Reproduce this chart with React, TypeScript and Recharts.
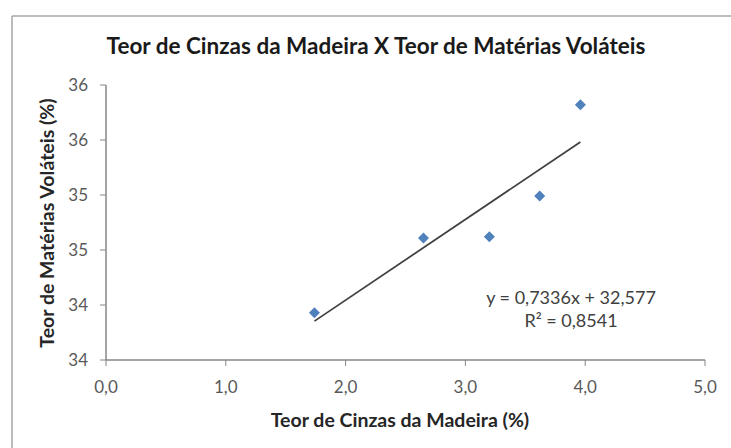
import { ReferenceLine, Scatter, ScatterChart, XAxis, YAxis } from "recharts";

// Teor de cinzas (%) x teor de matérias voláteis (%)
const ashContent = [1.74, 2.65, 3.2, 3.62, 3.96];
const volatileContent = [33.93, 34.61, 34.62, 34.99, 35.82];

const xTicks = [0, 1, 2, 3, 4, 5];
const yTicks = [33.5, 34, 34.5, 35, 35.5, 36];

// linear trendline, as printed on the chart
const trendSlope = 0.7336;
const trendIntercept = 32.577;
const trendRange = [1.74, 3.96];
const equationLines = ["y = 0,7336x + 32,577", "R² = 0,8541"];

const points = ashContent.map((x, i) => ({ x, y: volatileContent[i] }));
const trendSegment = trendRange.map((x) => ({ x, y: trendSlope * x + trendIntercept }));

const font = "Lato, 'Open Sans', sans-serif";
const blue = "#4f81bd";
const tickStyle = { fill: "#595959", fontSize: 17, fontFamily: font };

function Diamond(props: any) {
  const { cx, cy } = props;
  const r = 5.5;
  return (
    <polygon
      points={`${cx},${cy - r} ${cx + r},${cy} ${cx},${cy + r} ${cx - r},${cy}`}
      fill={blue}
    />
  );
}

export default function App() {
  return (
    <div style={{ position: "absolute", left: 0, top: 0, width: 731, height: 448, background: "#fff" }}>
      <ScatterChart width={731} height={448} margin={{ top: 85, right: 26, bottom: 48, left: 46 }}>
        <XAxis
          type="number"
          dataKey="x"
          domain={[0, 5]}
          ticks={xTicks}
          tickFormatter={(v: number) => v.toFixed(1).replace(".", ",")}
          tick={tickStyle}
          tickSize={6}
          tickMargin={15}
          height={40}
          stroke="#868686"
          axisLine={{ stroke: "#868686", strokeWidth: 1.5 }}
        />
        <YAxis
          type="number"
          dataKey="y"
          domain={[33.5, 36]}
          ticks={yTicks}
          tickFormatter={(v: number) => String(Math.round(v))}
          tick={tickStyle}
          tickSize={6}
          tickMargin={12}
          width={60}
          stroke="#868686"
          axisLine={{ stroke: "#868686", strokeWidth: 1.5 }}
        />
        <ReferenceLine
          segment={trendSegment}
          stroke="#404040"
          strokeWidth={1.75}
          ifOverflow="visible"
        />
        <Scatter data={points} fill={blue} shape={Diamond} isAnimationActive={false} />
      </ScatterChart>
      <svg
        width={731}
        height={448}
        style={{ position: "absolute", left: 0, top: 0, pointerEvents: "none" }}
      >
        <line x1={12} y1={16} x2={731} y2={16} stroke="#a6a6a6" strokeWidth={1.5} />
        <line x1={12} y1={16} x2={12} y2={448} stroke="#a6a6a6" strokeWidth={1.5} />
        <text x={376} y={54} textAnchor="middle" fontFamily={font} fontWeight="bold" fontSize={22.5} fill="#1a1a1a">
          Teor de Cinzas da Madeira X Teor de  Matérias Voláteis
        </text>
        <text x={400} y={427} textAnchor="middle" fontFamily={font} fontWeight="bold" fontSize={19.5} fill="#262626">
          Teor de Cinzas da Madeira (%)
        </text>
        <text
          x={0}
          y={0}
          transform="translate(54,223) rotate(-90)"
          textAnchor="middle"
          fontFamily={font}
          fontWeight="bold"
          fontSize={19.5}
          fill="#262626"
        >
          Teor de Matérias Voláteis (%)
        </text>
        {equationLines.map((line, i) => (
          <text key={line} x={571} y={304 + i * 23} textAnchor="middle" fontFamily={font} fontSize={18} fill="#404040">
            {line}
          </text>
        ))}
      </svg>
    </div>
  );
}
